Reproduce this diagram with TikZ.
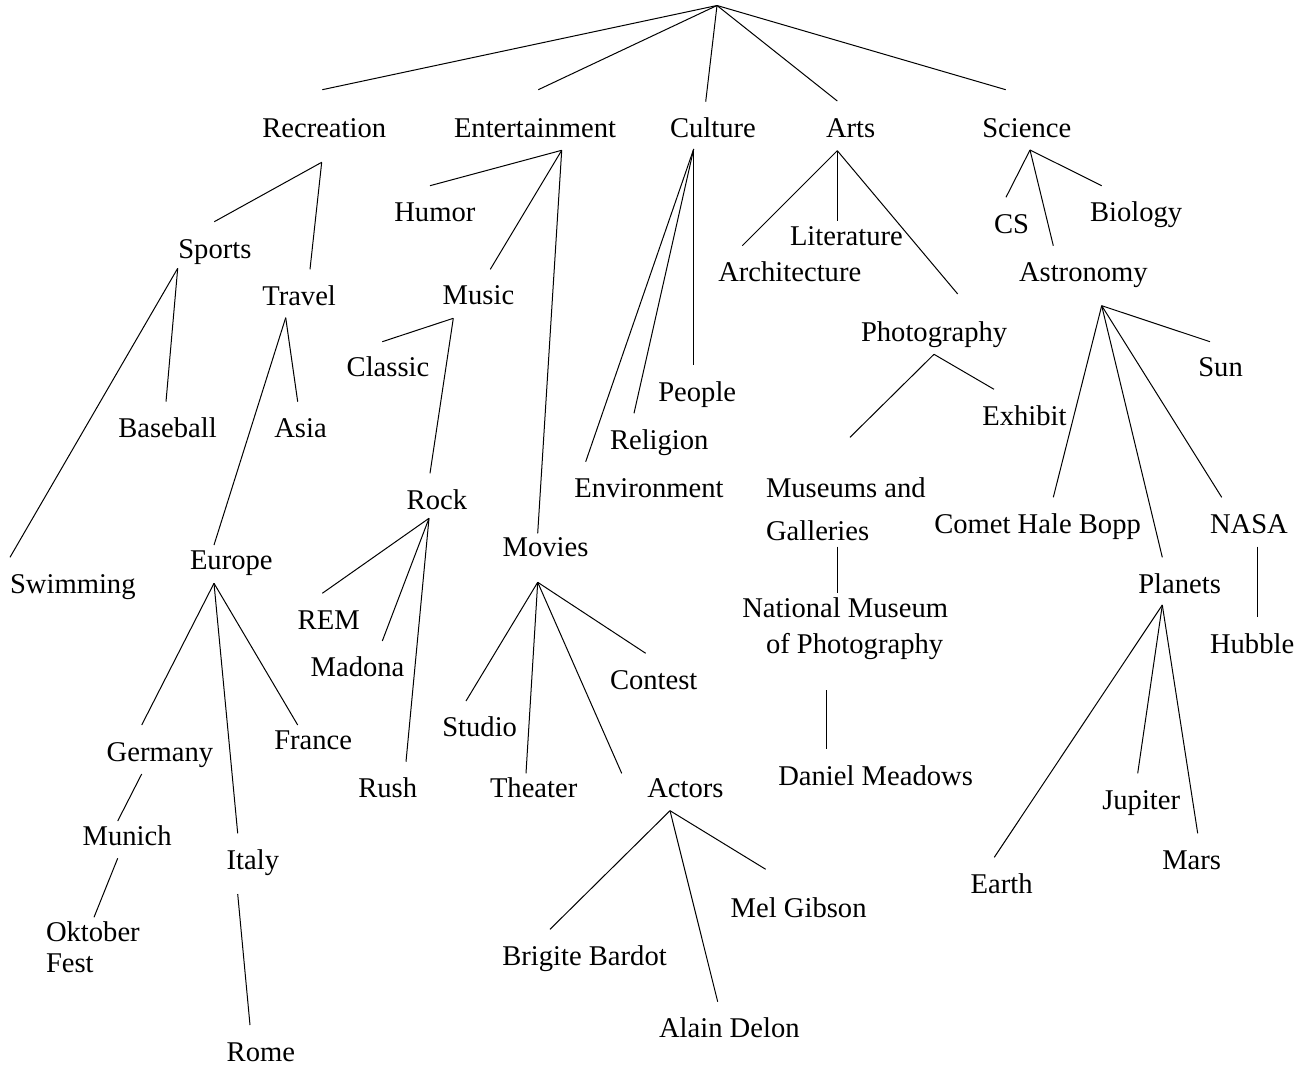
\documentclass[tikz,border=0pt]{standalone}
\usepackage{fontspec}
\setmainfont{Liberation Serif}
\begin{document}
\begin{tikzpicture}[x=1pt,y=-1pt,line width=1pt,
  lbl/.style={anchor=base west,inner sep=0pt,outer sep=0pt,font=\fontsize{28.6}{34}\selectfont},
  edge/.style={draw=black,line width=1pt}]
\useasboundingbox (0,0) rectangle (1310,1067);
% ---------- labels ----------
\node[lbl] (recreation) at (262.3,138) {Recreation};
\node[lbl] (entertainment) at (454,138) {Entertainment};
\node[lbl] (culture) at (670,138) {Culture};
\node[lbl] (arts) at (826,138) {Arts};
\node[lbl] (science) at (982.3,138) {Science};
\node[lbl] (humor) at (394.3,221.7) {Humor};
\node[lbl] (sports) at (178.3,258.3) {Sports};
\node[lbl] (travel) at (262.3,306) {Travel};
\node[lbl] (music) at (442.7,305) {Music};
\node[lbl] (literature) at (790,246) {Literature};
\node[lbl] (architecture) at (718.3,281.7) {Architecture};
\node[lbl] (cs) at (994,233.3) {CS};
\node[lbl] (biology) at (1090,221.7) {Biology};
\node[lbl] (astronomy) at (1019,281.7) {Astronomy};
\node[lbl] (photography) at (861,341.7) {Photography};
\node[lbl] (classic) at (346.7,376.7) {Classic};
\node[lbl] (sun) at (1198.3,376.7) {Sun};
\node[lbl] (baseball) at (118.3,437.3) {Baseball};
\node[lbl] (asia) at (274.3,437.3) {Asia};
\node[lbl] (people) at (658.3,401.7) {People};
\node[lbl] (religion) at (610,449.3) {Religion};
\node[lbl] (environment) at (574.3,497.3) {Environment};
\node[lbl] (exhibit) at (982.3,425) {Exhibit};
\node[lbl] (museums1) at (766,497.3) {Museums and};
\node[lbl] (museums2) at (766,540) {Galleries};
\node[lbl] (rock) at (406.7,509.3) {Rock};
\node[lbl] (comet) at (934.3,533.3) {Comet Hale Bopp};
\node[lbl] (nasa) at (1210,533.3) {NASA};
\node[lbl] (movies) at (502.7,556.7) {Movies};
\node[lbl] (swimming) at (10,593.3) {Swimming};
\node[lbl] (europe) at (190,569.3) {Europe};
\node[lbl] (planets) at (1138.3,593.3) {Planets};
\node[lbl] (rem) at (297.7,629) {REM};
\node[lbl] (national1) at (742.3,617.3) {National Museum};
\node[lbl] (national2) at (766,653.3) {of Photography};
\node[lbl] (hubble) at (1210,653.3) {Hubble};
\node[lbl] (madona) at (310.7,676.7) {Madona};
\node[lbl] (contest) at (610,689.3) {Contest};
\node[lbl] (studio) at (442.3,736.7) {Studio};
\node[lbl] (france) at (274.3,749.3) {France};
\node[lbl] (germany) at (106.7,761.7) {Germany};
\node[lbl] (rush) at (358.3,797.3) {Rush};
\node[lbl] (theater) at (490,797.3) {Theater};
\node[lbl] (actors) at (647.3,797.3) {Actors};
\node[lbl] (daniel) at (778.3,785) {Daniel Meadows};
\node[lbl] (jupiter) at (1102.3,809.3) {Jupiter};
\node[lbl] (munich) at (82.7,845.7) {Munich};
\node[lbl] (italy) at (226.7,869.3) {Italy};
\node[lbl] (mars) at (1162.3,869.3) {Mars};
\node[lbl] (earth) at (970.7,893.3) {Earth};
\node[lbl] (melgibson) at (730.7,917.3) {Mel Gibson};
\node[lbl] (oktober1) at (46,941.7) {Oktober};
\node[lbl] (oktober2) at (46,972.7) {Fest};
\node[lbl] (brigite) at (502.3,965.7) {Brigite Bardot};
\node[lbl] (alain) at (659,1037.7) {Alain Delon};
\node[lbl] (rome) at (226.7,1061.7) {Rome};
% ---------- connector end points ----------
\coordinate (root) at (717,5.5);
\coordinate (recreation-in) at (322.3,89.7);
\coordinate (entertainment-in) at (538.3,89.7);
\coordinate (culture-in) at (705.7,101.7);
\coordinate (arts-in) at (837.3,101);
\coordinate (science-in) at (1005.7,89.7);
\coordinate (recreation-out) at (321.7,162.3);
\coordinate (sports-in) at (214.3,221.7);
\coordinate (travel-in) at (310,269.3);
\coordinate (sports-out) at (177.7,268.3);
\coordinate (swimming-in) at (10,557.3);
\coordinate (baseball-in) at (166,401.7);
\coordinate (travel-out) at (285.7,317.7);
\coordinate (europe-in) at (214,545);
\coordinate (asia-in) at (297.7,401.7);
\coordinate (entertainment-out) at (561.7,150.3);
\coordinate (humor-in) at (430,185.7);
\coordinate (music-in) at (490.3,269.3);
\coordinate (movies-in) at (537.7,533.3);
\coordinate (culture-out) at (693.7,149);
\coordinate (environment-in) at (585.7,461.7);
\coordinate (religion-in) at (634,413.3);
\coordinate (people-in) at (693.7,365);
\coordinate (music-out) at (453.3,318.3);
\coordinate (classic-in) at (382.3,341.7);
\coordinate (rock-in) at (430,473.3);
\coordinate (arts-out) at (837.3,150.7);
\coordinate (architecture-in) at (742.3,245.7);
\coordinate (literature-in) at (837.3,221);
\coordinate (photography-in) at (957.7,294);
\coordinate (science-out) at (1030,150);
\coordinate (cs-in) at (1006,197.3);
\coordinate (astronomy-in) at (1053.3,245.7);
\coordinate (biology-in) at (1101.7,185.7);
\coordinate (astronomy-out) at (1101.7,305.7);
\coordinate (sun-in) at (1210,341.7);
\coordinate (comet-in) at (1053.3,497.3);
\coordinate (planets-in) at (1162.3,557.3);
\coordinate (nasa-in) at (1221.7,497.3);
\coordinate (nasa-out) at (1257.7,546.7);
\coordinate (hubble-in) at (1257.7,617.3);
\coordinate (photography-out) at (934,354.3);
\coordinate (exhibit-in) at (994,389.3);
\coordinate (museums-in) at (850,437.3);
\coordinate (museums-out) at (837.7,546.7);
\coordinate (national-in) at (837.7,593.3);
\coordinate (national-out) at (826,690);
\coordinate (daniel-in) at (826,749.3);
\coordinate (rock-out) at (429,518.3);
\coordinate (rem-in) at (322.3,593.3);
\coordinate (madona-in) at (382.3,641);
\coordinate (rush-in) at (406,761.7);
\coordinate (movies-out) at (537.7,582.3);
\coordinate (contest-in) at (645.7,653.3);
\coordinate (studio-in) at (466,701);
\coordinate (theater-in) at (526,773.3);
\coordinate (actors-in) at (621.7,773.3);
\coordinate (actors-out) at (670,810.7);
\coordinate (brigite-in) at (550,929.3);
\coordinate (alain-in) at (717.7,1001.7);
\coordinate (melgibson-in) at (765.7,869.3);
\coordinate (europe-out) at (214,583.3);
\coordinate (germany-in) at (141.7,725);
\coordinate (italy-in) at (237.7,833.3);
\coordinate (france-in) at (297.7,725);
\coordinate (germany-out) at (141.7,774);
\coordinate (munich-in) at (117.7,821);
\coordinate (munich-out) at (117.7,858.3);
\coordinate (oktober-in) at (94,917.3);
\coordinate (italy-out) at (237.7,894);
\coordinate (rome-in) at (250,1025);
\coordinate (planets-out) at (1162.3,605);
\coordinate (earth-in) at (994.3,857.3);
\coordinate (jupiter-in) at (1137.7,773.3);
\coordinate (mars-in) at (1197.7,833.3);
% ---------- connectors ----------
\foreach \c in {recreation,entertainment,culture,arts,science}
  \draw[edge] (root) -- (\c-in);
\foreach \c in {sports,travel} \draw[edge] (recreation-out) -- (\c-in);
\foreach \c in {swimming,baseball} \draw[edge] (sports-out) -- (\c-in);
\foreach \c in {europe,asia} \draw[edge] (travel-out) -- (\c-in);
\foreach \c in {humor,music,movies} \draw[edge] (entertainment-out) -- (\c-in);
\foreach \c in {environment,religion,people} \draw[edge] (culture-out) -- (\c-in);
\foreach \c in {classic,rock} \draw[edge] (music-out) -- (\c-in);
\foreach \c in {architecture,literature,photography} \draw[edge] (arts-out) -- (\c-in);
\foreach \c in {cs,astronomy,biology} \draw[edge] (science-out) -- (\c-in);
\foreach \c in {sun,comet,planets,nasa} \draw[edge] (astronomy-out) -- (\c-in);
\draw[edge] (nasa-out) -- (hubble-in);
\foreach \c in {exhibit,museums} \draw[edge] (photography-out) -- (\c-in);
\draw[edge] (museums-out) -- (national-in);
\draw[edge] (national-out) -- (daniel-in);
\foreach \c in {rem,madona,rush} \draw[edge] (rock-out) -- (\c-in);
\foreach \c in {contest,studio,theater,actors} \draw[edge] (movies-out) -- (\c-in);
\foreach \c in {brigite,alain,melgibson} \draw[edge] (actors-out) -- (\c-in);
\foreach \c in {germany,italy,france} \draw[edge] (europe-out) -- (\c-in);
\draw[edge] (germany-out) -- (munich-in);
\draw[edge] (munich-out) -- (oktober-in);
\draw[edge] (italy-out) -- (rome-in);
\foreach \c in {earth,jupiter,mars} \draw[edge] (planets-out) -- (\c-in);
\end{tikzpicture}
\end{document}
